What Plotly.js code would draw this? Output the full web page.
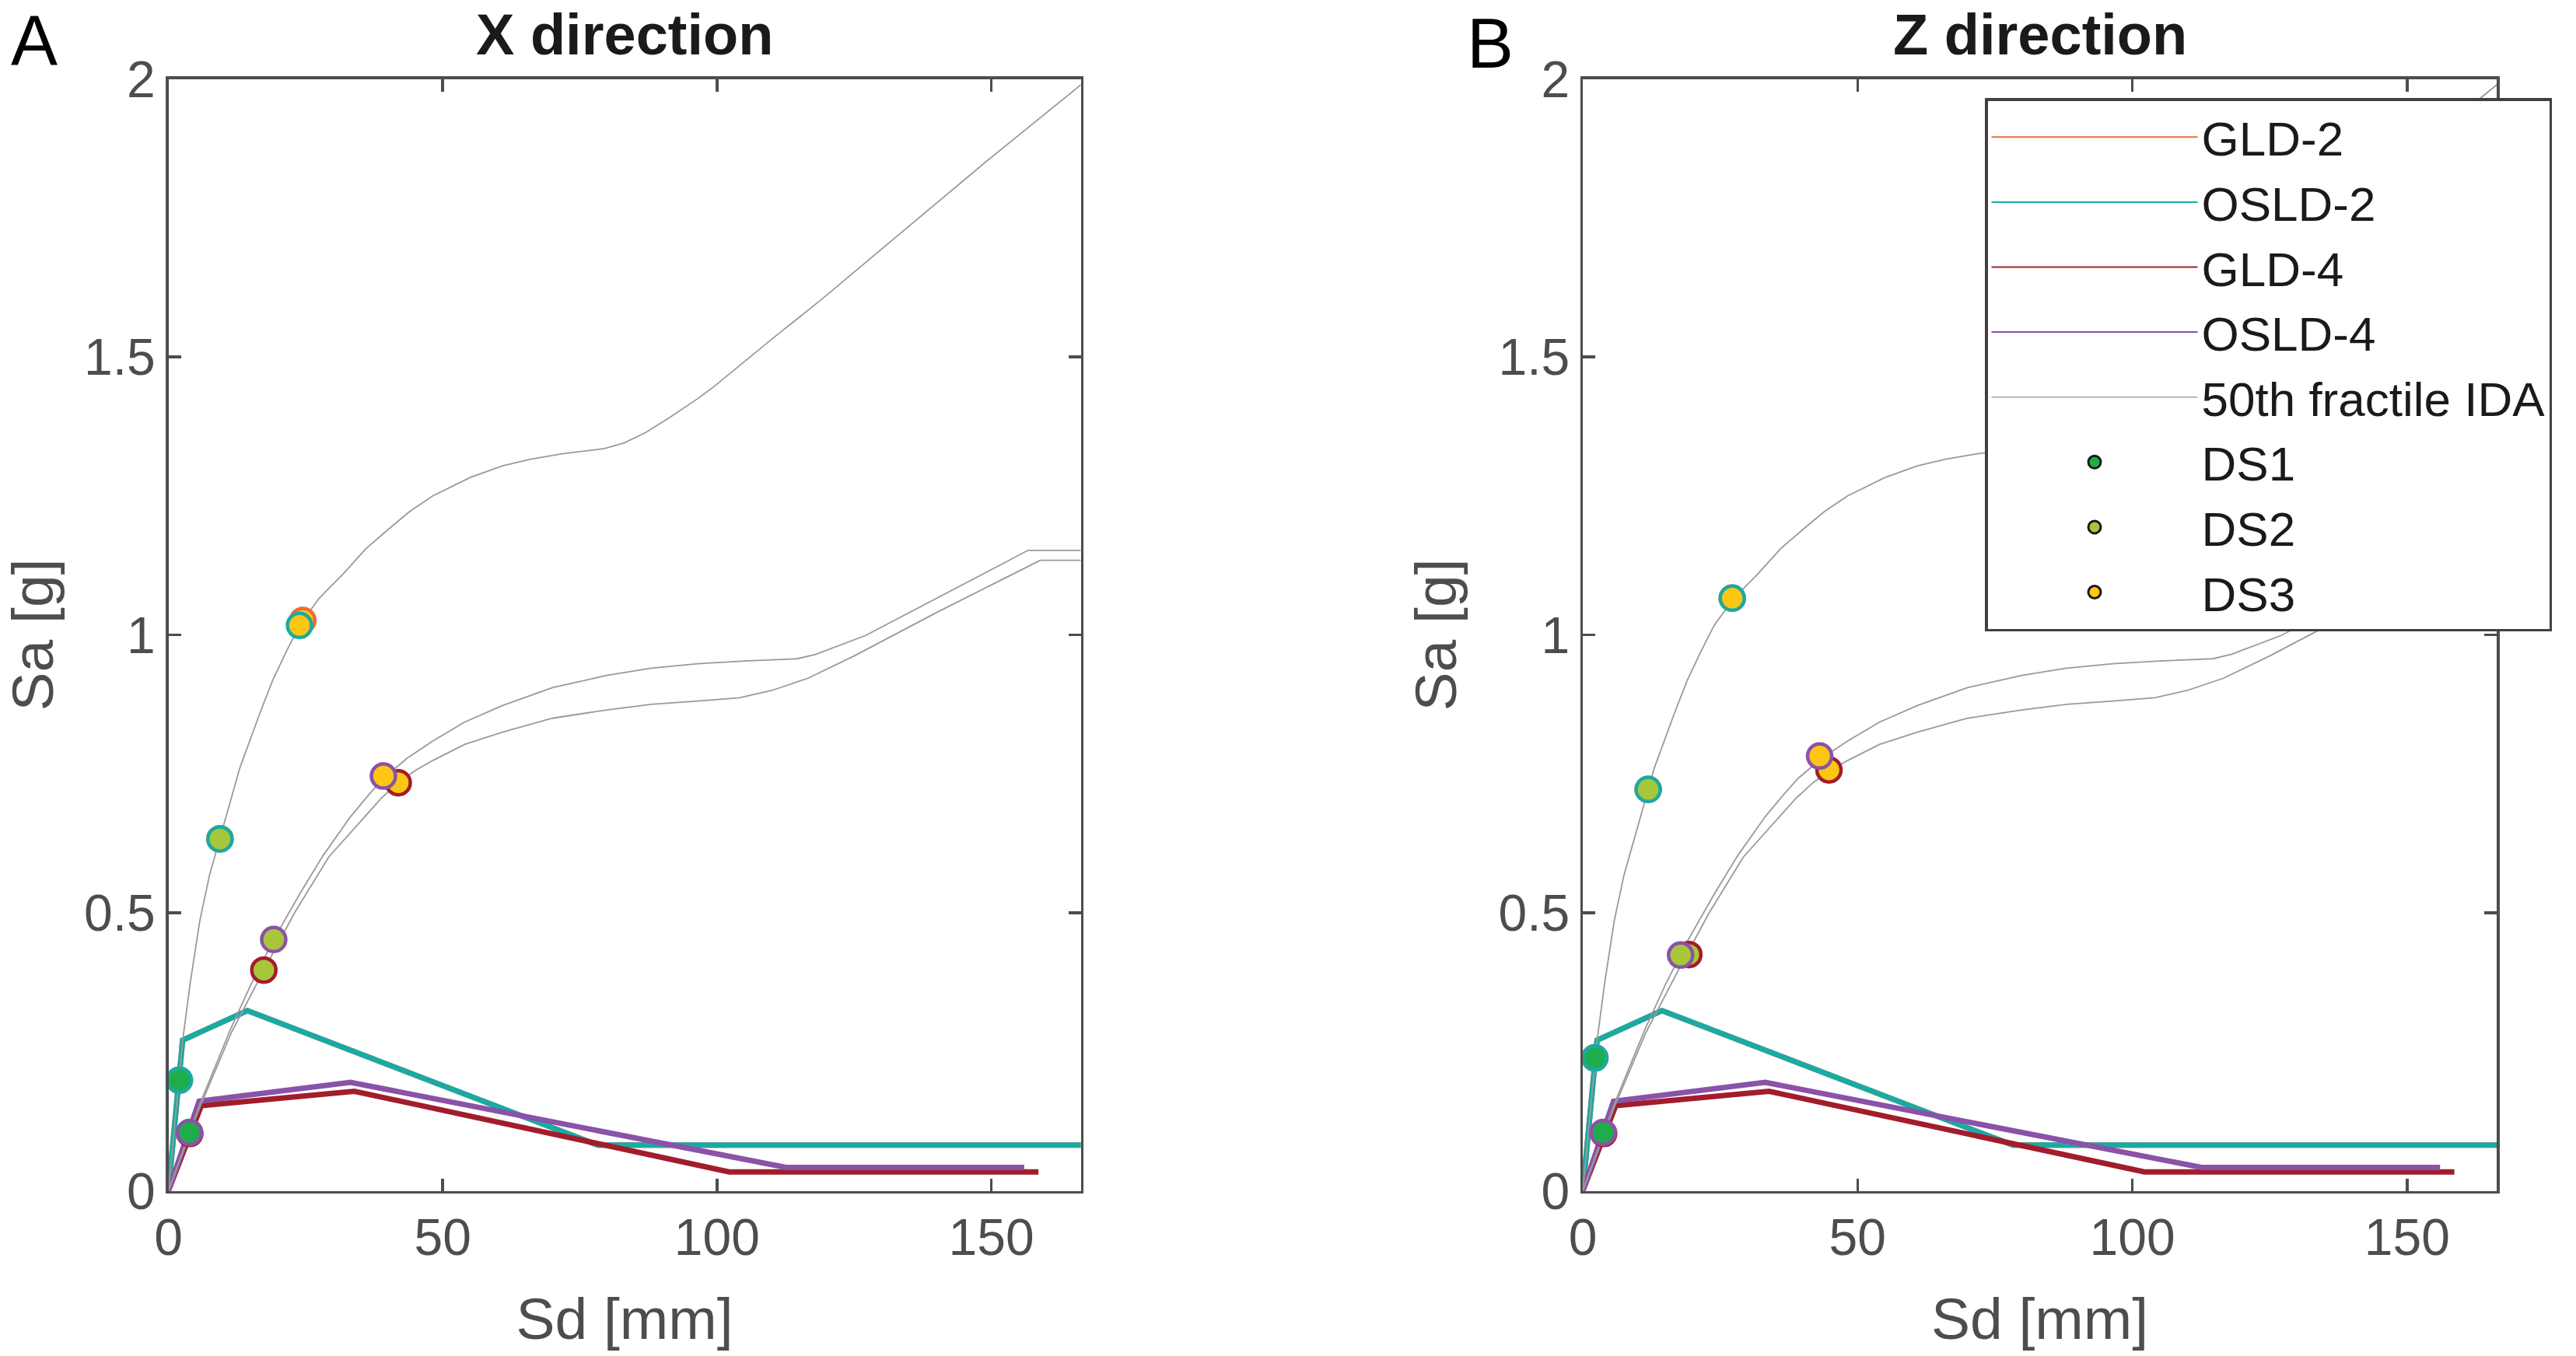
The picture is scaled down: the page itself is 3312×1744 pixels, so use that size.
<!DOCTYPE html>
<html><head><meta charset="utf-8">
<script src="https://cdn.plot.ly/plotly-3.0.1.min.js"></script>
<style>html,body{margin:0;padding:0;background:#fff}</style>
</head><body><div id="chart" style="width:3312px;height:1744px"></div>
<script>
// ---------- data ----------
const panelTitles = ['X direction', 'Z direction'];
const panelLetters = ['A', 'B'];
const seriesNames = ['GLD-2', 'OSLD-2', 'GLD-4', 'OSLD-4'];
const idaName = '50th fractile IDA';
const dsNames = ['DS1', 'DS2', 'DS3'];
const xTicks = [0, 50, 100, 150];
const yTicks = [0, 0.5, 1, 1.5, 2];
const yTickText = ['0', '0.5', '1', '1.5', '2'];

// capacity (Sd [mm], Sa [g]) curves
const capGLD2_sd  = [0, 2.6, 14.4, 78.3, 170];
const capGLD2_sa  = [0, 0.271, 0.324, 0.082, 0.082];
const capOSLD2_sd = [0, 2.6, 14.4, 78.3, 170];
const capOSLD2_sa = [0, 0.271, 0.324, 0.082, 0.082];
const capGLD4_sd  = [0, 6.0, 33.9, 102.2, 158.6];
const capGLD4_sa  = [0, 0.153, 0.179, 0.034, 0.034];
const capOSLD4_sd = [0, 5.6, 33.2, 112.6, 156.0];
const capOSLD4_sa = [0, 0.161, 0.195, 0.042, 0.042];

// 50th fractile IDA curves
const ida2_sd = [0, 1.0, 2.0, 2.6, 4.0, 5.75, 7.5, 9.4, 11, 13, 16.6, 19, 21.5, 23.9, 27.5, 31.8, 36, 40.6, 44, 48.2, 55, 60.9, 66, 72, 79.5, 83, 87, 91.2, 96.5, 99.5, 110, 119, 133.9, 148.9, 166.4];
const ida2_sa = [0, 0.105, 0.20, 0.27, 0.375, 0.487, 0.568, 0.633, 0.69, 0.76, 0.857, 0.918, 0.97, 1.017, 1.066, 1.109, 1.155, 1.194, 1.222, 1.25, 1.283, 1.304, 1.316, 1.326, 1.335, 1.345, 1.364, 1.39, 1.425, 1.447, 1.532, 1.603, 1.726, 1.85, 1.99];
const idaOSLD4_sd = [0, 5.7, 11.3, 15, 19.2, 24, 28.2, 33.2, 36.5, 39.2, 43.5, 48.2, 54, 60.9, 70, 79.9, 88, 96.5, 105, 114.6, 118, 122, 127.1, 156.7, 170];
const idaOSLD4_sa = [0, 0.155, 0.29, 0.37, 0.452, 0.535, 0.603, 0.673, 0.712, 0.742, 0.778, 0.809, 0.843, 0.873, 0.905, 0.927, 0.94, 0.948, 0.953, 0.957, 0.965, 0.98, 0.999, 1.152, 1.152];
const idaGLD4_sd = [0, 5.8, 11.5, 17.4, 23, 29.2, 35.8, 38.8, 41.9, 45, 48.2, 54, 60.9, 70, 79.9, 88, 96.5, 104.1, 110, 116.6, 125, 140, 158.9, 170];
const idaGLD4_sa = [0, 0.152, 0.285, 0.397, 0.50, 0.60, 0.673, 0.706, 0.734, 0.756, 0.774, 0.803, 0.825, 0.85, 0.865, 0.875, 0.881, 0.887, 0.9, 0.922, 0.962, 1.04, 1.134, 1.134];

// damage-state points [DS1, DS2, DS3], per panel
const dsX_GLD2_sd  = [2.0, 9.4, 24.5];   const dsX_GLD2_sa  = [0.199, 0.633, 1.026];
const dsX_OSLD2_sd = [2.0, 9.4, 23.9];   const dsX_OSLD2_sa = [0.199, 0.633, 1.017];
const dsX_GLD4_sd  = [3.9, 17.4, 41.9];  const dsX_GLD4_sa  = [0.103, 0.397, 0.734];
const dsX_OSLD4_sd = [3.85, 19.2, 39.2]; const dsX_OSLD4_sa = [0.105, 0.452, 0.746];

const dsZ_GLD2_sd  = [2.2, 11.9, 27.2];  const dsZ_GLD2_sa  = [0.239, 0.722, 1.066];
const dsZ_OSLD2_sd = [2.2, 11.9, 27.2];  const dsZ_OSLD2_sa = [0.239, 0.722, 1.066];
const dsZ_GLD4_sd  = [3.8, 19.3, 44.8];  const dsZ_GLD4_sa  = [0.103, 0.425, 0.757];
const dsZ_OSLD4_sd = [3.7, 17.8, 43.1];  const dsZ_OSLD4_sa = [0.105, 0.424, 0.782];

// ---------- styles ----------
const lineColors = ['#ee6c35', '#1aaaa4', '#a21d2b', '#8a52a8'];
const dsColors = ['#1fad4c', '#a8c63a', '#fdc514'];
const idaColor = '#9a9a9a';
const axisColor = '#4d4d4d';
const FONT = 'Liberation Sans, Arial, Helvetica, sans-serif';

const caps = [[capGLD2_sd, capGLD2_sa], [capOSLD2_sd, capOSLD2_sa], [capGLD4_sd, capGLD4_sa], [capOSLD4_sd, capOSLD4_sa]];
const idas = [[ida2_sd, ida2_sa], [idaGLD4_sd, idaGLD4_sa], [idaOSLD4_sd, idaOSLD4_sa]];
const dsPanels = [
  [[dsX_GLD2_sd, dsX_GLD2_sa], [dsX_OSLD2_sd, dsX_OSLD2_sa], [dsX_GLD4_sd, dsX_GLD4_sa], [dsX_OSLD4_sd, dsX_OSLD4_sa]],
  [[dsZ_GLD2_sd, dsZ_GLD2_sa], [dsZ_OSLD2_sd, dsZ_OSLD2_sa], [dsZ_GLD4_sd, dsZ_GLD4_sa], [dsZ_OSLD4_sd, dsZ_OSLD4_sa]]
];

const traces = [];
[0, 1].forEach(p => {
  const xa = p === 0 ? 'x' : 'x2', ya = p === 0 ? 'y' : 'y2';
  caps.forEach((c, i) => traces.push({
    x: c[0], y: c[1], xaxis: xa, yaxis: ya, type: 'scatter', mode: 'lines',
    line: {color: lineColors[i], width: 7}, showlegend: false, hoverinfo: 'skip', cliponaxis: true
  }));
  idas.forEach(c => traces.push({
    x: c[0], y: c[1], xaxis: xa, yaxis: ya, type: 'scatter', mode: 'lines',
    line: {color: idaColor, width: 1.8}, showlegend: false, hoverinfo: 'skip'
  }));
  dsPanels[p].forEach((d, i) => traces.push({
    x: d[0], y: d[1], xaxis: xa, yaxis: ya, type: 'scatter', mode: 'markers',
    marker: {size: 31, color: dsColors, line: {color: lineColors[i], width: 4.5}},
    showlegend: false, cliponaxis: false
  }));
});
// legend entries
seriesNames.forEach((n, i) => traces.push({
  x: [null], y: [null], xaxis: 'x2', yaxis: 'y2', type: 'scatter', mode: 'lines', name: n,
  line: {color: lineColors[i], width: 2}
}));
traces.push({x: [null], y: [null], xaxis: 'x2', yaxis: 'y2', type: 'scatter', mode: 'lines', name: idaName,
  line: {color: '#b5b5b5', width: 2}});
dsNames.forEach((n, i) => traces.push({
  x: [null], y: [null], xaxis: 'x2', yaxis: 'y2', type: 'scatter', mode: 'markers', name: n,
  marker: {size: 16, color: dsColors[i], line: {color: '#1a1a1a', width: 3}}
}));

const W = 3312, H = 1744;
const yDom = [(H - 1531.5) / H, (H - 101.5) / H];
function xAxis(dom) {
  return {
    domain: dom, range: [0, 166.3], tickvals: xTicks, ticktext: xTicks.map(String),
    ticks: 'inside', ticklen: 16, tickwidth: 3.5, tickcolor: axisColor,
    showline: true, linecolor: axisColor, linewidth: 3.5, mirror: 'ticks',
    showgrid: false, zeroline: false,
    tickfont: {family: FONT, size: 66, color: axisColor},
    title: {text: 'Sd [mm]', font: {family: FONT, size: 75, color: axisColor}, standoff: 43},
    automargin: false, fixedrange: true
  };
}
function yAxis() {
  return {
    domain: yDom, range: [0, 2], tickvals: yTicks, ticktext: yTickText,
    ticks: 'inside', ticklen: 16, tickwidth: 3.5, tickcolor: axisColor,
    showline: true, linecolor: axisColor, linewidth: 3.5, mirror: 'ticks',
    showgrid: false, zeroline: false,
    tickfont: {family: FONT, size: 66, color: axisColor},
    title: {text: 'Sa [g]', font: {family: FONT, size: 75, color: axisColor}, standoff: 30},
    automargin: false, fixedrange: true
  };
}
const domA = [216.5 / W, 1389.5 / W], domB = [2035 / W, 3210 / W];
const xa1 = xAxis(domA); xa1.anchor = 'y';
const xa2 = xAxis(domB); xa2.anchor = 'y2';
const ya1 = yAxis(); ya1.anchor = 'x';
const ya2 = yAxis(); ya2.anchor = 'x2';

const annotations = [];
[domA, domB].forEach((d, i) => {
  annotations.push({
    text: '<b>' + panelTitles[i] + '</b>', xref: 'paper', yref: 'paper',
    x: (d[0] + d[1]) / 2, y: 1 - 2 / H, xanchor: 'center', yanchor: 'top', borderpad: 0,
    showarrow: false, font: {family: FONT, size: 74, color: '#1a1a1a'}
  });
});
annotations.push({text: panelLetters[0], xref: 'paper', yref: 'paper', x: 12 / W, y: 1 - 52 / H,
  xanchor: 'left', yanchor: 'middle', showarrow: false, font: {family: FONT, size: 90, color: '#000'}});
annotations.push({text: panelLetters[1], xref: 'paper', yref: 'paper', x: 1884 / W, y: 1 - 56 / H,
  xanchor: 'left', yanchor: 'middle', showarrow: false, font: {family: FONT, size: 90, color: '#000'}});

const layout = {
  width: W, height: H, margin: {l: 0, r: 0, t: 0, b: 0},
  paper_bgcolor: '#fff', plot_bgcolor: '#fff',
  font: {family: FONT, color: '#1a1a1a'},
  xaxis: xa1, yaxis: ya1, xaxis2: xa2, yaxis2: ya2,
  showlegend: true,
  legend: {
    x: 2552 / W, y: 1 - 126 / H, xanchor: 'left', yanchor: 'top',
    bgcolor: '#fff', bordercolor: '#404040', borderwidth: 3.5,
    font: {family: FONT, size: 62, color: '#1a1a1a'},
    itemwidth: 265, tracegroupgap: 0, traceorder: 'normal'
  },
  annotations: annotations
};
Plotly.newPlot('chart', traces, layout, {displayModeBar: false, staticPlot: true});
</script></body></html>
